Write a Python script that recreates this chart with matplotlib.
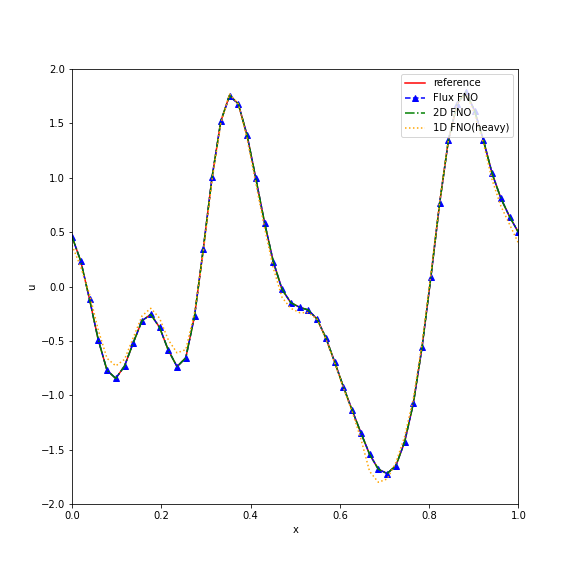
import numpy as np
import matplotlib
matplotlib.use("Agg")
import matplotlib.pyplot as plt

# sample positions (52 points, every marker of the Flux FNO curve)
x = np.linspace(0.0, 1.0, 52)

u_ref = [0.46, 0.234, -0.115, -0.49, -0.77, -0.845, -0.731, -0.517, -0.314, -0.256,
         -0.375, -0.584, -0.737, -0.655, -0.271, 0.345, 1.004, 1.52, 1.76, 1.68,
         1.393, 0.995, 0.587, 0.228, -0.026, -0.149, -0.19, -0.216, -0.299, -0.471,
         -0.691, -0.921, -1.136, -1.344, -1.543, -1.68, -1.72, -1.648, -1.43, -1.074,
         -0.553, 0.087, 0.765, 1.344, 1.68, 1.79, 1.617, 1.347, 1.04, 0.811,
         0.642, 0.498]

u_flux = [0.46, 0.234, -0.115, -0.49, -0.77, -0.845, -0.731, -0.517, -0.314, -0.256,
          -0.375, -0.584, -0.737, -0.655, -0.271, 0.345, 1.004, 1.52, 1.75, 1.68,
          1.393, 0.995, 0.587, 0.228, -0.026, -0.149, -0.19, -0.216, -0.299, -0.471,
          -0.691, -0.921, -1.136, -1.344, -1.543, -1.68, -1.72, -1.648, -1.43, -1.074,
          -0.553, 0.087, 0.765, 1.344, 1.68, 1.79, 1.617, 1.347, 1.04, 0.811,
          0.642, 0.498]

u_2d = [0.46, 0.234, -0.115, -0.49, -0.77, -0.845, -0.731, -0.517, -0.314, -0.256,
        -0.375, -0.584, -0.737, -0.655, -0.271, 0.345, 1.004, 1.52, 1.76, 1.68,
        1.393, 0.995, 0.587, 0.228, -0.026, -0.149, -0.19, -0.216, -0.299, -0.471,
        -0.691, -0.921, -1.136, -1.344, -1.543, -1.68, -1.72, -1.648, -1.43, -1.074,
        -0.553, 0.087, 0.765, 1.344, 1.68, 1.79, 1.617, 1.347, 1.04, 0.811,
        0.642, 0.498]

u_1d = [0.38, 0.18, -0.07, -0.40, -0.66, -0.73, -0.67, -0.47, -0.27, -0.20,
        -0.29, -0.49, -0.61, -0.58, -0.24, 0.32, 0.98, 1.50, 1.77, 1.68,
        1.36, 0.95, 0.54, 0.17, -0.10, -0.20, -0.24, -0.24, -0.30, -0.48,
        -0.70, -0.93, -1.15, -1.40, -1.70, -1.80, -1.77, -1.62, -1.38, -1.03,
        -0.52, 0.11, 0.78, 1.34, 1.68, 1.78, 1.58, 1.32, 0.98, 0.74,
        0.57, 0.40]

fig = plt.figure(figsize=(8, 8), dpi=72)
fig.subplots_adjust(left=0.125, right=0.9, top=0.88, bottom=0.125)
ax = fig.add_subplot(111)

ax.plot(x, u_ref, 'r-', label='reference')
ax.plot(x, u_flux, 'b--^', label='Flux FNO')
ax.plot(x, u_2d, 'g-.', label='2D FNO')
ax.plot(x, u_1d, color='orange', linestyle=':', label='1D FNO(heavy)')

ax.set_xlim(0, 1)
ax.set_ylim(-2, 2)
ax.set_xlabel('x')
ax.set_ylabel('u')
ax.legend(loc='upper right')

fig.savefig('out.png', dpi=72)
